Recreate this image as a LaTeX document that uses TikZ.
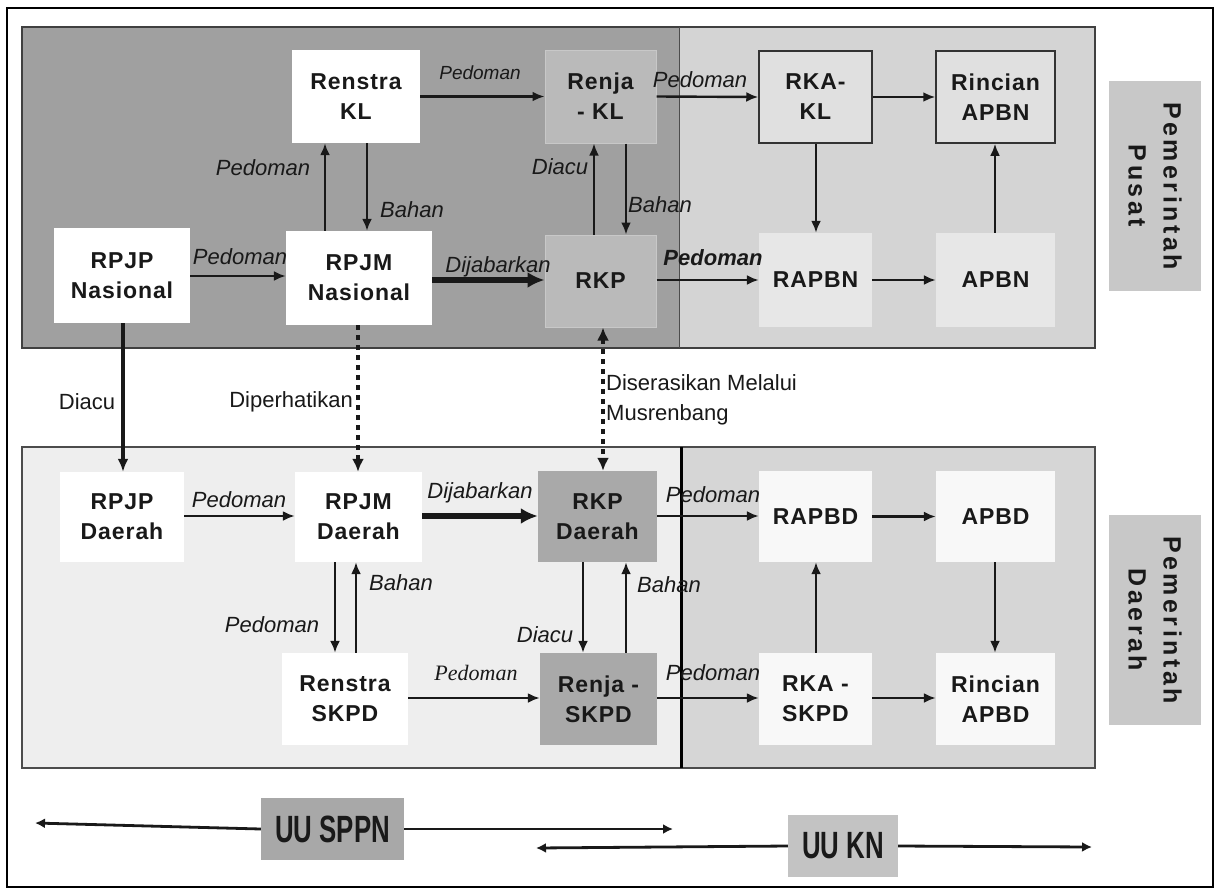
\documentclass[tikz,border=0pt]{standalone}
\usepackage{fontspec}
\setmainfont{Liberation Sans}
\newfontfamily\boxfont[LetterSpace=4]{Liberation Sans}
\newfontfamily\pemfont[LetterSpace=14]{Liberation Sans}
\newfontfamily\uufont[FakeStretch=0.68]{Liberation Sans}
\newfontfamily\seriffont{Liberation Serif}
\usetikzlibrary{arrows.meta}
\definecolor{panelA}{RGB}{160,160,160}
\definecolor{panelB}{RGB}{212,212,212}
\definecolor{panelC}{RGB}{238,238,238}
\definecolor{panelD}{RGB}{214,214,214}
\definecolor{renjaFill}{RGB}{186,186,186}
\definecolor{renjaEdge}{RGB}{200,200,200}
\definecolor{rkaFill}{RGB}{224,224,224}
\definecolor{rapbnFill}{RGB}{231,231,231}
\definecolor{rkpdFill}{RGB}{169,169,169}
\definecolor{rapbdFill}{RGB}{248,248,248}
\definecolor{pemFill}{RGB}{200,200,200}
\definecolor{sppnFill}{RGB}{168,168,168}
\definecolor{knFill}{RGB}{195,195,195}
\definecolor{ink}{RGB}{25,25,25}
\begin{document}
\begin{tikzpicture}[x=1pt,y=-1pt,
  box/.style={inner sep=0pt, align=center, text=ink,
    font=\boxfont\bfseries\fontsize{23}{30}\selectfont},
  lab/.style={inner sep=0pt, text=ink, font=\itshape\fontsize{22}{26}\selectfont},
  midlab/.style={inner sep=0pt, text=ink, font=\fontsize{22}{30}\selectfont},
  arr/.style={draw=ink, line width=2.4pt, -{Latex[length=12pt,width=10pt]}},
  bigarr/.style={draw=ink, line width=5.5pt, -{Latex[length=17pt,width=16pt]}},
  droparr/.style={draw=ink, line width=3.8pt, -{Latex[length=13pt,width=11pt]}},
  dotarr/.style={draw=ink, line width=4.5pt, dash pattern=on 5pt off 5pt},
  legarr/.style={draw=ink, line width=2.8pt, -{Latex[length=10pt,width=10pt]}},
  pem/.style={fill=pemFill, inner sep=0pt, minimum width=210pt, minimum height=92pt,
    rotate=-90, align=center, text=ink,
    font=\pemfont\bfseries\fontsize{25}{35}\selectfont},
  uu/.style={inner sep=0pt, minimum height=62pt, text=ink,
    font=\uufont\bfseries\fontsize{38}{40}\selectfont}
]
\useasboundingbox (0,0) rectangle (1217,889);
\fill[white] (0,0) rectangle (1217,889);
\draw[line width=2pt, black] (7,8) rectangle (1213,887);

% panels
\fill[panelA] (22,27) rectangle (679,348);
\fill[panelB] (679,27) rectangle (1095,348);
\draw[line width=2pt, black!75] (22,27) rectangle (1095,348);
\draw[line width=1pt, black!70] (679,27) -- (679,348);
\fill[panelC] (22,447) rectangle (681,768);
\fill[panelD] (681,447) rectangle (1095,768);
\draw[line width=1.5pt, black!70] (22,447) rectangle (1095,768);
\draw[line width=3pt, black] (681,447) -- (681,768);

% top nodes
\node[box, fill=white, minimum width=128pt, minimum height=93pt] (renstraKL) at (356,96.5) {Renstra\\KL};
\node[box, fill=renjaFill, draw=renjaEdge, line width=1pt, minimum width=111pt, minimum height=93pt] (renjaKL) at (600.5,96.5) {Renja\\- KL};
\node[box, fill=rkaFill, draw=black!80, line width=1.5pt, minimum width=113pt, minimum height=92pt] (rkaKL) at (815.5,97) {RKA-\\KL};
\node[box, fill=rkaFill, draw=black!80, line width=1.5pt, minimum width=119pt, minimum height=92pt] (rincianAPBN) at (995.5,97) {Rincian\\APBN};
\node[box, fill=white, minimum width=136pt, minimum height=95pt] (rpjpN) at (122,275.5) {RPJP\\Nasional};
\node[box, fill=white, minimum width=146pt, minimum height=94pt] (rpjmN) at (359,278) {RPJM\\Nasional};
\node[box, fill=renjaFill, draw=renjaEdge, line width=1pt, minimum width=111pt, minimum height=92pt] (rkp) at (600.5,281) {RKP};
\node[box, fill=rapbnFill, minimum width=113pt, minimum height=94pt] (rapbn) at (815.5,280) {RAPBN};
\node[box, fill=rapbnFill, minimum width=119pt, minimum height=94pt] (apbn) at (995.5,280) {APBN};

% bottom nodes
\node[box, fill=white, minimum width=124pt, minimum height=90pt] (rpjpD) at (122,517) {RPJP\\Daerah};
\node[box, fill=white, minimum width=127pt, minimum height=90pt] (rpjmD) at (358.5,517) {RPJM\\Daerah};
\node[box, fill=rkpdFill, minimum width=119pt, minimum height=91pt] (rkpD) at (597.5,516.5) {RKP\\Daerah};
\node[box, fill=rapbdFill, minimum width=113pt, minimum height=91pt] (rapbd) at (815.5,516.5) {RAPBD};
\node[box, fill=rapbdFill, minimum width=119pt, minimum height=91pt] (apbd) at (995.5,516.5) {APBD};
\node[box, fill=white, minimum width=126pt, minimum height=92pt] (renstraS) at (345,699) {Renstra\\SKPD};
\node[box, fill=rkpdFill, minimum width=117pt, minimum height=92pt] (renjaS) at (598.5,699) {Renja -\\SKPD};
\node[box, fill=rapbdFill, minimum width=113pt, minimum height=92pt] (rkaS) at (815.5,699) {RKA -\\SKPD};
\node[box, fill=rapbdFill, minimum width=119pt, minimum height=92pt] (rincianAPBD) at (995.5,699) {Rincian\\APBD};

% side labels
\node[pem] (pemPusat) at (1155,186) {Pemerintah\\Pusat};
\node[pem] (pemDaerah) at (1155,620) {Pemerintah\\Daerah};

% top connectors
\draw[arr] (renstraKL.east) -- (renjaKL.west);
\draw[arr] (renjaKL.east) -- (rkaKL.west);
\draw[arr] (rkaKL.east) -- (rincianAPBN.west);
\draw[arr] (rpjpN.east |- 0,276) -- (rpjmN.west |- 0,276);
\draw[bigarr] (rpjmN.east |- 0,280) -- (rkp.west |- 0,280);
\draw[arr] (rkp.east |- 0,280) -- (rapbn.west |- 0,280);
\draw[arr] (rapbn.east) -- (apbn.west);
\draw[arr] (rpjmN.north -| 325,0) -- (renstraKL.south -| 325,0);
\draw[arr] (renstraKL.south -| 367,0) -- (rpjmN.north -| 367,0);
\draw[arr] (rkp.north -| 594,0) -- (renjaKL.south -| 594,0);
\draw[arr] (renjaKL.south -| 626,0) -- (rkp.north -| 626,0);
\draw[arr] (rkaKL.south -| 816,0) -- (rapbn.north -| 816,0);
\draw[arr] (apbn.north -| 995,0) -- (rincianAPBN.south -| 995,0);

% cross connectors
\draw[droparr] (rpjpN.south -| 123,0) -- (rpjpD.north -| 123,0);
\draw[dotarr, -{Latex[length=13pt,width=12pt]}] (rpjmN.south -| 358,0) -- (rpjmD.north -| 358,0);
\draw[dotarr, {Latex[length=13pt,width=12pt]}-{Latex[length=13pt,width=12pt]}] (rkp.south -| 603,0) -- (rkpD.north -| 603,0);

% bottom connectors
\draw[arr] (rpjpD.east |- 0,516) -- (rpjmD.west |- 0,516);
\draw[bigarr] (rpjmD.east |- 0,516) -- (rkpD.west |- 0,516);
\draw[arr] (rkpD.east |- 0,516) -- (rapbd.west |- 0,516);
\draw[arr] (rapbd.east) -- (apbd.west);
\draw[arr] (apbd.south -| 995,0) -- (rincianAPBD.north -| 995,0);
\draw[arr] (rkaS.north -| 816,0) -- (rapbd.south -| 816,0);
\draw[arr] (rkaS.east |- 0,698) -- (rincianAPBD.west |- 0,698);
\draw[arr] (renjaS.east |- 0,698) -- (rkaS.west |- 0,698);
\draw[arr] (renstraS.east |- 0,698) -- (renjaS.west |- 0,698);
\draw[arr] (rpjmD.south -| 335,0) -- (renstraS.north -| 335,0);
\draw[arr] (renstraS.north -| 356,0) -- (rpjmD.south -| 356,0);
\draw[arr] (rkpD.south -| 583,0) -- (renjaS.north -| 583,0);
\draw[arr] (renjaS.north -| 626,0) -- (rkpD.south -| 626,0);

% labels top
\node[lab, font=\itshape\fontsize{19}{22}\selectfont] (lPedA) at (480,73) {Pedoman};
\node[lab] (lPedB) at (700,80) {Pedoman};
\node[lab] (lPedC) at (240,257) {Pedoman};
\node[lab] (lDijA) at (498,267) {Dijabarkan};
\node[lab, font=\bfseries\itshape\fontsize{22}{26}\selectfont] (lPedD) at (713,258) {Pedoman};
\node[lab] (lPedE) at (263,168) {Pedoman};
\node[lab] (lBahA) at (412,210) {Bahan};
\node[lab] (lDiacuA) at (560,167) {Diacu};
\node[lab] (lBahB) at (660,205) {Bahan};

% middle labels
\node[midlab] (lDiacuM) at (87,402) {Diacu};
\node[midlab, anchor=east] (lDiper) at (353,402) {Diperhatikan};
\node[midlab, anchor=west, align=left] (lDiser) at (606,400) {Diserasikan Melalui\\Musrenbang};

% labels bottom
\node[lab] (lPedF) at (239,500) {Pedoman};
\node[lab] (lDijB) at (480,493) {Dijabarkan};
\node[lab] (lPedG) at (713,495) {Pedoman};
\node[lab] (lPedH) at (713,673) {Pedoman};
\node[lab, font=\seriffont\itshape\fontsize{22}{26}\selectfont] (lPedI) at (476,673) {Pedoman};
\node[lab] (lPedJ) at (272,625) {Pedoman};
\node[lab] (lBahC) at (401,583) {Bahan};
\node[lab] (lDiacuB) at (545,635) {Diacu};
\node[lab] (lBahD) at (669,585) {Bahan};

% legend
\node[uu, fill=sppnFill, minimum width=143pt] (uuSPPN) at (332.5,829) {UU SPPN};
\node[uu, fill=knFill, minimum width=110pt] (uuKN) at (843,846) {UU KN};
\coordinate (sppnL) at (35,823);
\coordinate (sppnR) at (673,829);
\coordinate (knL) at (536,848);
\coordinate (knR) at (1092,847);
\draw[legarr] (uuSPPN.west) -- (sppnL);
\draw[legarr] (uuSPPN.east) -- (sppnR);
\draw[legarr] (uuKN.west) -- (knL);
\draw[legarr] (uuKN.east) -- (knR);
\end{tikzpicture}
\end{document}
